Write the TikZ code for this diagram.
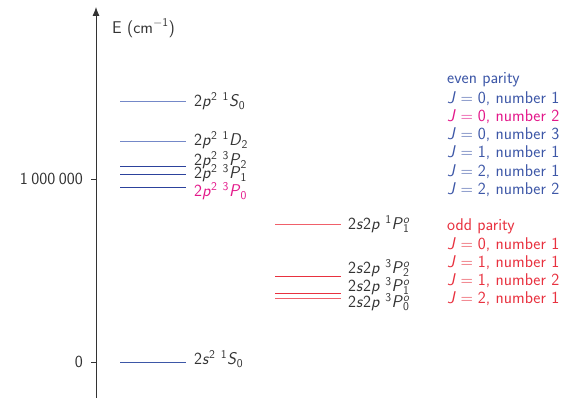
\documentclass[tikz,border=0pt]{standalone}
\usepackage{fontspec}
\usetikzlibrary{arrows.meta}
\definecolor{evenblue}{HTML}{3D57A7}
\definecolor{lightblue}{HTML}{7488C8}
\definecolor{darkblue}{HTML}{2C429C}
\definecolor{oddred}{HTML}{E8313F}
\definecolor{lightred}{HTML}{F0606A}
\definecolor{mag}{HTML}{E3188A}
\definecolor{txt}{HTML}{333333}
\newcommand\myup[1]{\textsuperscript{#1}}
\newcommand\mysb[1]{\textsubscript{#1}}
\newcommand\mysbsp[2]{\rlap{\textsuperscript{#2}}\textsubscript{#1}}
\newcommand\ital[1]{\textit{#1}}
\newcommand\eqs{\hspace{4.8pt}=\hspace{4.8pt}}
\begin{document}
\begin{tikzpicture}[x=1pt,y=-1pt,
  font=\sffamily\fontsize{17}{19}\selectfont,
  every node/.style={text=txt,inner sep=0pt},
  lvl/.style={line width=0.8pt},
  lab/.style={anchor=west},
  leg/.style={anchor=west}]
\useasboundingbox (0,0) rectangle (568,398);
% axis
\coordinate (ab) at (96,398);
\coordinate (at) at (96,7);
\draw[txt,line width=0.8pt,-{Latex[length=9pt,width=7pt]}] (ab) -- (at);
\node[anchor=west] (elab) at (112,28) {E (cm\myup{$-$1})};
\coordinate (t1a) at (91,179.3); \coordinate (t1b) at (96,179.3);
\coordinate (t0a) at (91,362.3); \coordinate (t0b) at (96,362.3);
\draw[txt,line width=0.6pt] (t1a) -- (t1b);
\draw[txt,line width=0.6pt] (t0a) -- (t0b);
\node[anchor=east] (tl1) at (83,179.3) {1\hspace{3.5pt}000\hspace{3.5pt}000};
\node[anchor=east] (tl0) at (83,362.3) {0};
% even levels
\coordinate (eS0a) at (120,101.7); \coordinate (eS0b) at (186,101.7);
\coordinate (eD2a) at (120,141.7); \coordinate (eD2b) at (186,141.7);
\coordinate (eP2a) at (120,166);   \coordinate (eP2b) at (186,166);
\coordinate (eP1a) at (120,174);   \coordinate (eP1b) at (186,174);
\coordinate (eP0a) at (120,187.3); \coordinate (eP0b) at (186,187.3);
\coordinate (gSa) at (120,362.5);  \coordinate (gSb) at (186,362.5);
\draw[lvl,lightblue] (eS0a) -- (eS0b);
\draw[lvl,lightblue] (eD2a) -- (eD2b);
\draw[lvl,darkblue] (eP2a) -- (eP2b);
\draw[lvl,darkblue] (eP1a) -- (eP1b);
\draw[lvl,darkblue] (eP0a) -- (eP0b);
\draw[lvl,evenblue] (gSa) -- (gSb);
\node[lab] (leS0) at (194,101) {2\ital{p}\myup{2} \myup{1}\ital{S}\mysb{0}};
\node[lab] (leD2) at (194,140) {2\ital{p}\myup{2} \myup{1}\ital{D}\mysb{2}};
\node[lab] (leP2) at (194,160) {2\ital{p}\myup{2} \myup{3}\ital{P}\mysb{2}};
\node[lab] (leP1) at (194,173) {2\ital{p}\myup{2} \myup{3}\ital{P}\mysb{1}};
\node[lab,text=mag] (leP0) at (194,191) {2\ital{p}\myup{2} \myup{3}\ital{P}\mysb{0}};
\node[lab] (lgS) at (194,359) {2\ital{s}\myup{2} \myup{1}\ital{S}\mysb{0}};
% odd levels
\coordinate (oP1a) at (275,224.3); \coordinate (oP1b) at (341,224.3);
\coordinate (o3P2a) at (275,276);  \coordinate (o3P2b) at (341,276);
\coordinate (o3P1a) at (275,293.3);\coordinate (o3P1b) at (341,293.3);
\coordinate (o3P0a) at (275,298.7);\coordinate (o3P0b) at (341,298.7);
\draw[lvl,lightred] (oP1a) -- (oP1b);
\draw[lvl,oddred] (o3P2a) -- (o3P2b);
\draw[lvl,oddred] (o3P1a) -- (o3P1b);
\draw[lvl,lightred] (o3P0a) -- (o3P0b);
\node[lab] (loP1) at (348,224) {2\ital{s}2\ital{p} \myup{1}\ital{P}\mysbsp{1}{\ital{o}}};
\node[lab] (lo3P2) at (348,268) {2\ital{s}2\ital{p} \myup{3}\ital{P}\mysbsp{2}{\ital{o}}};
\node[lab] (lo3P1) at (348,286) {2\ital{s}2\ital{p} \myup{3}\ital{P}\mysbsp{1}{\ital{o}}};
\node[lab] (lo3P0) at (348,302) {2\ital{s}2\ital{p} \myup{3}\ital{P}\mysbsp{0}{\ital{o}}};
% legend
\node[leg,text=evenblue] (lg0) at (447,80) {even parity};
\node[leg,text=evenblue] (lg1) at (447,99) {\ital{J}\eqs 0, number 1};
\node[leg,text=mag] (lg2) at (447,117) {\ital{J}\eqs 0, number 2};
\node[leg,text=evenblue] (lg3) at (447,135) {\ital{J}\eqs 0, number 3};
\node[leg,text=evenblue] (lg4) at (447,153) {\ital{J}\eqs 1, number 1};
\node[leg,text=evenblue] (lg5) at (447,172) {\ital{J}\eqs 2, number 1};
\node[leg,text=evenblue] (lg6) at (447,190) {\ital{J}\eqs 2, number 2};
\node[leg,text=oddred] (lo0) at (447,226) {odd parity};
\node[leg,text=oddred] (lo1) at (447,245) {\ital{J}\eqs 0, number 1};
\node[leg,text=oddred] (lo2) at (447,263) {\ital{J}\eqs 1, number 1};
\node[leg,text=oddred] (lo3) at (447,281) {\ital{J}\eqs 1, number 2};
\node[leg,text=oddred] (lo4) at (447,299) {\ital{J}\eqs 2, number 1};
\end{tikzpicture}
\end{document}
